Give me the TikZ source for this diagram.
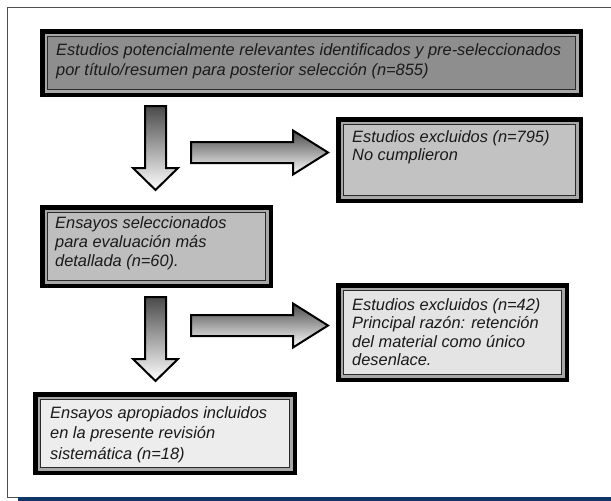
\documentclass[tikz,border=0pt]{standalone}
\usepackage{fontspec}
\setmainfont{Liberation Sans}
\definecolor{gapc}{HTML}{A8A8A8}
\definecolor{innerline}{HTML}{2A2A2A}
\definecolor{fillA}{HTML}{8E8E8E}
\definecolor{fillB}{HTML}{C2C2C2}
\definecolor{fillC}{HTML}{BEBEBE}
\definecolor{fillD}{HTML}{E4E4E4}
\definecolor{fillE}{HTML}{EDEDED}
\definecolor{arrdark}{HTML}{4A4A4A}
\definecolor{framec}{HTML}{505050}
\definecolor{barblue}{HTML}{0E3768}
\definecolor{txtc}{HTML}{1A1A1A}
\begin{document}
\begin{tikzpicture}[x=1pt,y=-1pt,
  box/.style={fill=black, inner sep=0pt, outer sep=0pt, anchor=north west,
    path picture={
      \fill[gapc] ([shift={(4.5pt,-4.5pt)}]path picture bounding box.north west) rectangle ([shift={(-4.5pt,4.5pt)}]path picture bounding box.south east);
      \filldraw[fill=#1, draw=innerline, line width=1.2pt] ([shift={(7.6pt,-7.6pt)}]path picture bounding box.north west) rectangle ([shift={(-7.6pt,7.6pt)}]path picture bounding box.south east);
    }},
  txt/.style={inner sep=0pt, anchor=north west, align=left, text=txtc,
    font=\fontsize{16.4}{#1}\selectfont\itshape},
  blockarrow/.style={draw=black, line width=2pt, line join=miter, top color=arrdark, bottom color=white},
  downarr/.pic={\path[blockarrow] (-10.5,0) -- (-10.5,62) -- (-22.5,62) -- (0,84) -- (22.5,62) -- (10.5,62) -- (10.5,0) -- cycle;},
  rightarr/.pic={\path[blockarrow] (0,-10.5) -- (102,-10.5) -- (102,-22) -- (137,0) -- (102,22) -- (102,10.5) -- (0,10.5) -- cycle;}
]
\useasboundingbox (0,0) rectangle (611,501);
\fill[white] (0,0) rectangle (611,501);
% outer frame and bottom bar
\draw[framec, line width=1pt] (615,7.5) -- (7.5,7.5) -- (7.5,497.5) -- (19,497.5);
\fill[barblue] (18,497) rectangle (611,501);

% boxes
\node[box=fillA, minimum width=543pt, minimum height=68pt] (b1) at (40,29) {};
\node[box=fillB, minimum width=247pt, minimum height=86pt] (b2) at (336,117) {};
\node[box=fillC, minimum width=233pt, minimum height=83pt] (b3) at (40,205) {};
\node[box=fillD, minimum width=233pt, minimum height=99pt] (b4) at (336,283) {};
\node[box=fillE, minimum width=264pt, minimum height=83pt] (b5) at (33,392) {};

% texts
\node[txt=20] (t1) at ([shift={(16pt,-14pt)}]b1.north west)
  {\rule{0pt}{12pt}Estudios potencialmente relevantes identificados y pre-seleccionados\\por título/resumen para posterior selección (n=855)};
\node[txt=18.5] (t2) at ([shift={(16pt,-13pt)}]b2.north west)
  {\rule{0pt}{12pt}Estudios excluidos (n=795)\\No cumplieron};
\node[txt=19] (t3) at ([shift={(15pt,-11pt)}]b3.north west)
  {\rule{0pt}{12pt}Ensayos seleccionados\\para evaluación más\\detallada (n=60).};
\node[txt=18.5] (t4) at ([shift={(16pt,-15pt)}]b4.north west)
  {\rule{0pt}{12pt}Estudios excluidos (n=42)\\Principal razón: retención\\del material como único\\desenlace.};
\node[txt=20.5] (t5) at ([shift={(17pt,-14pt)}]b5.north west)
  {\rule{0pt}{12pt}Ensayos apropiados incluidos\\en la presente revisión\\sistemática (n=18)};

% block arrows
\coordinate (d1) at (155.5,106);
\coordinate (r1) at (191,152.5);
\coordinate (d2) at (155.5,297);
\coordinate (r2) at (191,325.5);
\pic at (d1) {downarr};
\pic at (r1) {rightarr};
\pic at (d2) {downarr};
\pic at (r2) {rightarr};
\end{tikzpicture}
\end{document}
